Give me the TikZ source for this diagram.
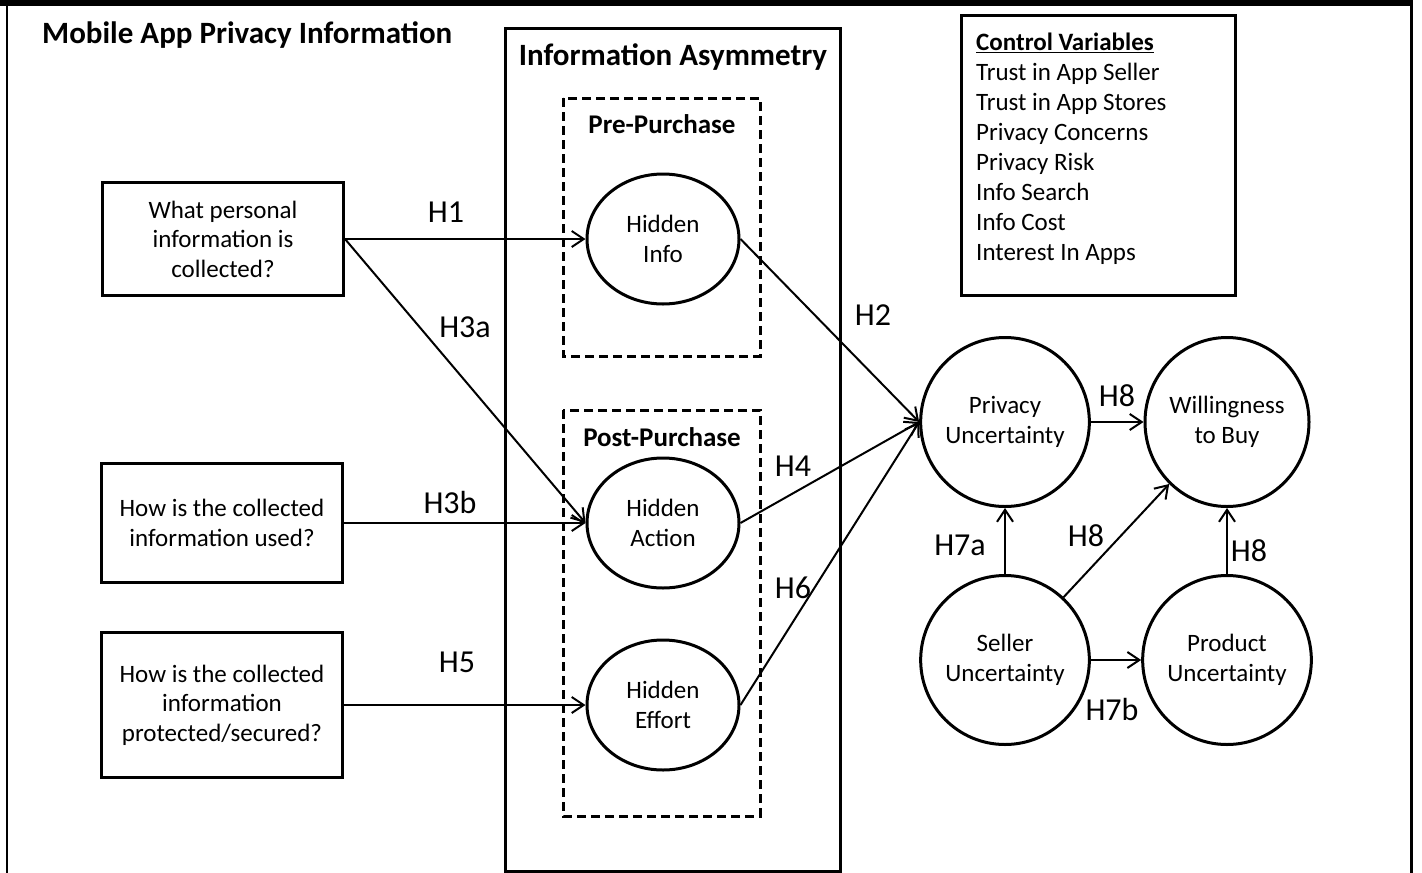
\documentclass[tikz,border=0pt]{standalone}
\usepackage{fontspec}
\setmainfont{Carlito}
\usetikzlibrary{positioning,arrows.meta,shapes.geometric}

\begin{document}
\begin{tikzpicture}[x=1pt,y=-1pt]
   \useasboundingbox (0,0) rectangle (1422,873);
   \fill (0,0) rectangle (1413,5.5);
   \draw [line width=2.5pt] (7,0) -- (7,873);
   \draw [line width=3pt] (1411,0) -- (1411,873);
% Draw Research Model
   \begin{scope}[ node distance=222pt,on grid,>={Straight Barb[length=12pt,width=16pt]},
                   every node/.style={font=\fontsize{25}{29.5}\selectfont},
                   qbox/.style={rectangle,draw,line width=3pt,minimum width=241pt,align=center,inner sep=0pt},
                   hid/.style={ellipse,draw,line width=3pt,minimum width=152pt,minimum height=130pt,align=center,inner sep=0pt},
                   comp/.style={ellipse,draw,line width=3pt,minimum width=164pt,minimum height=169pt,align=center,inner sep=0pt},
                   frame/.style={draw,line width=3pt},
                   zone/.style={draw,line width=3pt,dash pattern=on 9pt off 5pt},
                   title/.style={font=\fontsize{31}{34}\selectfont\bfseries,inner sep=0pt},
                   hlab/.style={font=\fontsize{32}{36}\selectfont,inner sep=0pt},
                   conn/.style={->,line width=2pt} ]
     \node [title,anchor=west] (ttl)   at (42,35)   {Mobile App Privacy Information};
     \draw [frame] (505,28) rectangle (840,871);
     \node [title] (asym)  at (673,57)  {Information Asymmetry};
     \draw [zone] (563,98) rectangle (760,356);
     \draw [zone] (563,410) rectangle (760,816);
     \node [title,font=\fontsize{27}{30}\selectfont\bfseries] (pre)  at (662,124) {Pre-Purchase};
     \node [title,font=\fontsize{27}{30}\selectfont\bfseries] (post) at (662,437) {Post-Purchase};
     \draw [frame] (961,15) rectangle (1235,295);
     \node [anchor=north west,align=left,inner sep=0pt,font=\fontsize{25}{30}\selectfont] (ctrl) at (976,33)
        {\textbf{\underline{Control Variables}}\\Trust in App Seller\\Trust in App Stores\\Privacy Concerns\\Privacy Risk\\Info Search\\Info Cost\\Interest In Apps};

     \node [qbox,minimum height=113pt] (q1) at (223,239) {What personal\\information is\\collected?};
     \node [qbox,minimum height=119pt] (q2) at (222,523) {How is the collected\\information used?};
     \node [qbox,minimum height=145pt] (q3) at (222,705) {How is the collected\\information\\protected/secured?};
     \node [hid]  (hinfo)   at (663,239) {Hidden\\Info} edge [conn,<-] (q1.east);
     \node [hid]  (haction) at (663,523) {Hidden\\Action};
     \node [hid]  (heffort) at (663,705) {Hidden\\Effort} edge [conn,<-] (q3.east);
     \draw (q1.east) edge [conn] (haction.west);
     \draw (q2.east) edge [conn] (haction.west);

     \node [comp] (priv)   at (1005,422)      {Privacy\\Uncertainty};
     \node [comp] (will)   [right=of priv]    {Willingness\\to Buy} edge [conn,<-] (priv);
     \node [comp] (seller) [below=238pt of priv] {Seller\\Uncertainty} edge [conn] (priv) edge [conn] (will);
     \node [comp] (prod)   [right=of seller]  {Product\\Uncertainty} edge [conn] (will) edge [conn,<-] (seller);
     \draw (hinfo.east) edge [conn] (priv.west);
     \draw (haction.east) edge [conn] (priv.west);
     \draw (heffort.east) edge [conn] (priv.west);

     \node [hlab] (h1)  at (446,212)  {H1};
     \node [hlab] (h3a) at (465,327)  {H3a};
     \node [hlab] (h3b) at (450,502)  {H3b};
     \node [hlab] (h5)  at (457,662)  {H5};
     \node [hlab] (h2)  at (873,315)  {H2};
     \node [hlab] (h4)  at (793,466)  {H4};
     \node [hlab] (h6)  at (793,588)  {H6};
     \node [hlab] (h8a) at (1117,396) {H8};
     \node [hlab] (h7a) at (960,545)  {H7a};
     \node [hlab] (h8b) at (1086,536) {H8};
     \node [hlab] (h8c) at (1249,551) {H8};
     \node [hlab] (h7b) at (1112,709) {H7b};
   \end{scope}
\end{tikzpicture}
\end{document}
